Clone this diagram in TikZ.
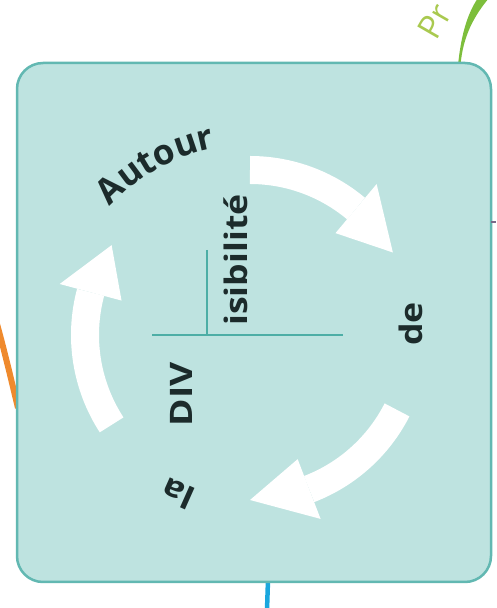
\documentclass[tikz,border=0pt]{standalone}
\usepackage{fontspec}
\setmainfont{Open Sans}
\usetikzlibrary{decorations.text}
\definecolor{boxfill}{HTML}{BEE3E0}
\definecolor{boxline}{HTML}{62B8B2}
\definecolor{txtcol}{HTML}{1C2B2B}
\definecolor{axiscol}{HTML}{4DAEA6}
\definecolor{grn}{HTML}{7DBE3C}
\definecolor{grntxt}{HTML}{A9C94F}
\definecolor{orng}{HTML}{EF8A2D}
\definecolor{blu}{HTML}{1AA7DE}
\definecolor{tickcol}{HTML}{7A6A8A}
\tikzset{
  lbl/.style={text=txtcol, inner sep=0pt, font=\fontsize{31}{36}\selectfont\bfseries},
  axis/.style={draw=axiscol, line width=2pt},
  cyclearrow/.style={draw=white, line width=28pt},
  headfill/.style={fill=white},
}
\begin{document}
\begin{tikzpicture}[x=1pt,y=1pt]
\useasboundingbox (0,0) rectangle (496,608);
\coordinate (C) at (250,273);
% outside strokes
\fill[grn] (458,543) .. controls (461,572) and (467,594) .. (478,610) -- (489,610) .. controls (474,592) and (463,572) .. (460.5,543) -- cycle;
\node[text=grntxt, font=\fontsize{33}{38}\selectfont, rotate=60, anchor=base west, inner sep=0pt] (pr) at (436,566) {Pr};
\coordinate (o1) at (-3,284);
\coordinate (o2) at (18,200);
\draw[orng, line width=6pt] (o1) .. controls (5,255) and (12,225) .. (o2);
\coordinate (b1) at (268,28);
\coordinate (b2) at (267,-2);
\draw[blu, line width=4.5pt] (b1) -- (b2);
% main box
\node[draw=boxline, fill=boxfill, line width=2.5pt, rounded corners=26pt, minimum width=474pt, minimum height=519pt, inner sep=0pt] (box) at (254,285.5) {};
\coordinate (t1) at (491,386);
\coordinate (t2) at (496,386);
\draw[tickcol, line width=1.5pt] (t1) -- (t2);
% cycle arrows
\foreach \a/\b/\e in {90/50/30, -27/-69/-90, 213/165/147} {
  \draw[cyclearrow] (C) ++(\a:165) arc[start angle=\a, end angle=\b, radius=165];
  \fill[headfill] ([shift={(\b:133)}]C) -- ([shift={(\b:197)}]C) -- ([shift={(\e:165)}]C) -- cycle;
}
% axes
\coordinate (hl) at (152,273);
\coordinate (hr) at (343,273);
\coordinate (vt) at (207,358);
\coordinate (vb) at (207,273);
\draw[axis] (hl) -- (hr);
\draw[axis] (vt) -- (vb);
% labels
\node[lbl, rotate=90, xscale=1.2] (div) at (181,214) {DIV};
\node[lbl, rotate=90, xscale=1.15] (isib) at (236,348) {isibilité};
\node[lbl, rotate=90, xscale=1.15] (de) at (411,284) {de};
\node[lbl, rotate=156, xscale=1.15] (la) at (178,114) {la};
\path[decorate, decoration={text along path, text align=center,
  text={|\fontsize{35}{40}\selectfont\bfseries\color{txtcol}|Autour}}]
  (C) ++(143:190) arc[start angle=143, end angle=95, radius=190];
\end{tikzpicture}
\end{document}
